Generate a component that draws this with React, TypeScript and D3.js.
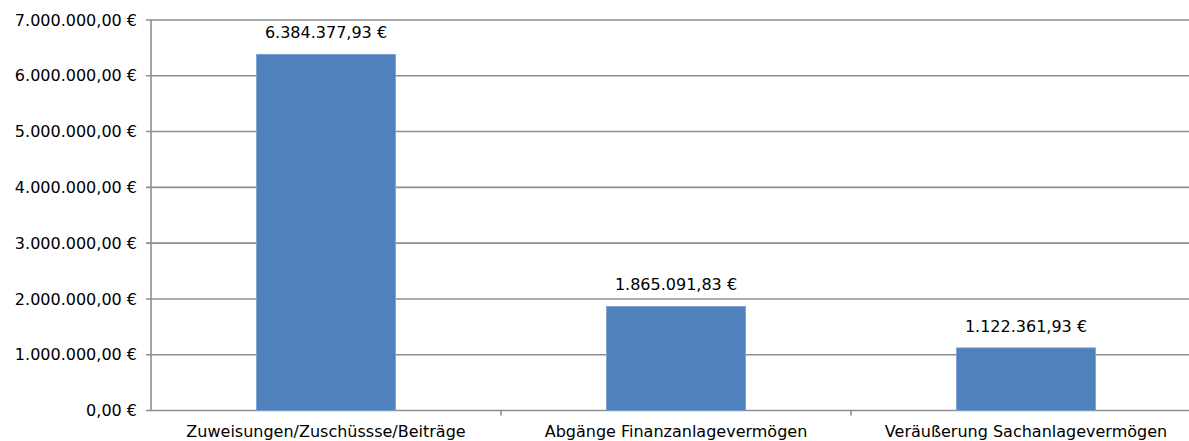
import React from "react";
import * as d3 from "d3";

const categories = [
  "Zuweisungen/Zuschüssse/Beiträge",
  "Abgänge Finanzanlagevermögen",
  "Veräußerung Sachanlagevermögen",
];
const values = [6384377.93, 1865091.83, 1122361.93];
const yTicks = [0, 1000000, 2000000, 3000000, 4000000, 5000000, 6000000, 7000000];

const fmt = (v: number) => {
  const [i, d] = v.toFixed(2).split(".");
  const withDots = i.replace(/\B(?=(\d{3})+(?!\d))/g, ".");
  return `${withDots},${d} €`;
};

export default function App() {
  const W = 1189;
  const H = 441;
  const left = 151;
  const right = 1201;
  const top = 20;
  const bottom = 410.5;
  const font = "'DejaVu Sans', Verdana, sans-serif";
  const fs = 16;

  const x = d3.scaleBand<string>().domain(categories).range([left, right]).paddingInner(0.603).paddingOuter(0.3015);
  const y = d3.scaleLinear().domain([0, 7000000]).range([bottom, top]);
  const step = x.step();

  return (
    <svg
      width={W}
      height={H}
      style={{ position: "absolute", left: 0, top: 0, background: "#fff" }}
      fontFamily={font}
    >
      {yTicks.map((t) => (
        <g key={t}>
          <line x1={left - 5} x2={W} y1={y(t)} y2={y(t)} stroke="#8e8e8e" strokeWidth={1.6} />
          <text x={137} y={y(t)} dy="0.35em" textAnchor="end" fontSize={fs} fill="#000">
            {fmt(t)}
          </text>
        </g>
      ))}
      <line x1={left} x2={left} y1={top} y2={bottom} stroke="#8e8e8e" strokeWidth={1.6} />
      {categories.map((c, i) => (
        <line
          key={"t" + i}
          x1={left + step * (i + 1)}
          x2={left + step * (i + 1)}
          y1={bottom}
          y2={bottom + 5}
          stroke="#8e8e8e"
          strokeWidth={1.6}
        />
      ))}
      {categories.map((c, i) => (
        <g key={c}>
          <rect
            x={x(c)!}
            y={y(values[i])}
            width={x.bandwidth()}
            height={bottom - y(values[i])}
            fill="#4F81BD"
            stroke="#7A9FCF"
            strokeWidth={0.8}
          />
          <text
            x={x(c)! + x.bandwidth() / 2}
            y={y(values[i]) - 16}
            textAnchor="middle"
            fontSize={fs}
            fill="#000"
          >
            {fmt(values[i])}
          </text>
          <text
            x={x(c)! + x.bandwidth() / 2}
            y={437}
            textAnchor="middle"
            fontSize={fs}
            fill="#000"
          >
            {c}
          </text>
        </g>
      ))}
    </svg>
  );
}
